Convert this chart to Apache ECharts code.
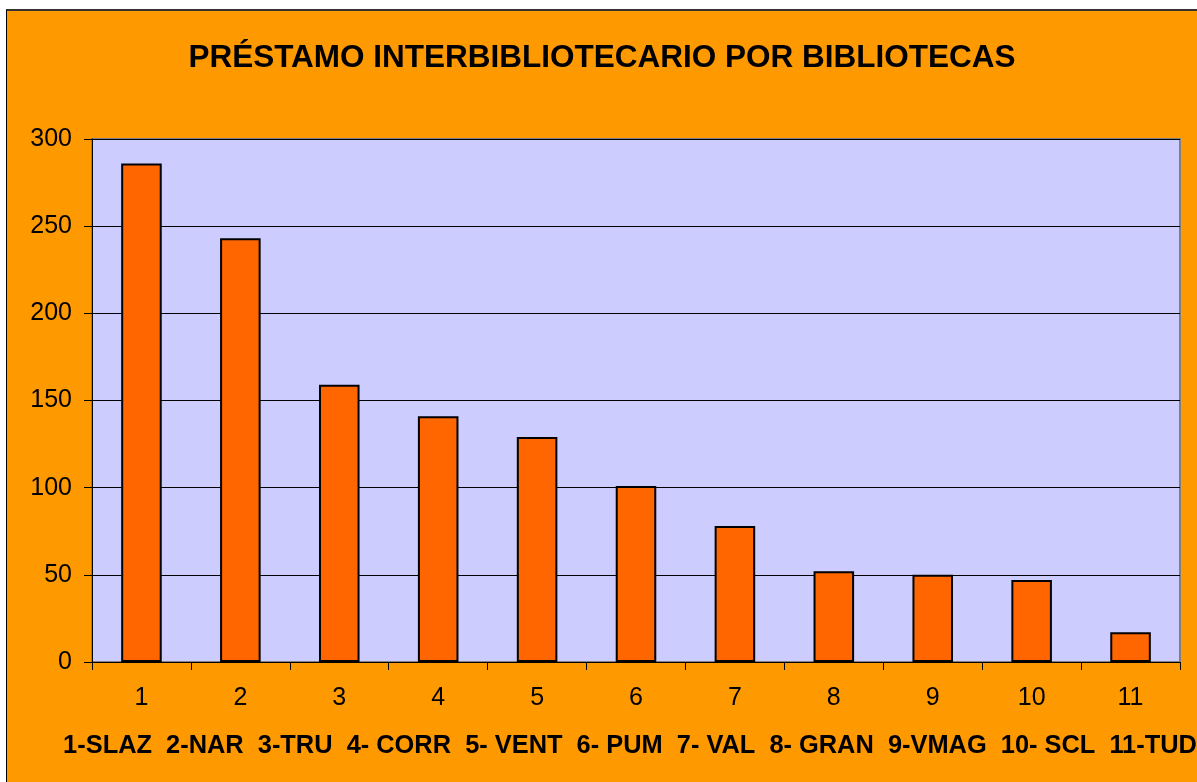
<!DOCTYPE html>
<html>
<head>
<meta charset="utf-8">
<script src="https://cdn.jsdelivr.net/npm/echarts@6/dist/echarts.min.js"></script>
<style>
  html, body { margin: 0; padding: 0; background: #ffffff; }
  #frame {
    position: absolute; left: 6px; top: 9px; width: 1191px; height: 773px;
    background: #ff9900; border-left: 1px solid #000; border-top: 2px solid #333;
    box-sizing: border-box;
  }
  #chart { width: 100%; height: 100%; }
</style>
</head>
<body>
<div id="frame"><div id="chart"></div></div>
<script>
const categories = ['1', '2', '3', '4', '5', '6', '7', '8', '9', '10', '11'];
const libraryNames = ['1-SLAZ', '2-NAR', '3-TRU', '4- CORR', '5- VENT', '6- PUM', '7- VAL', '8- GRAN', '9-VMAG', '10- SCL', '11-TUD'];
const loans = [286, 243, 159, 141, 129, 101, 78, 52, 50, 47, 17];
const yTicks = { min: 0, max: 300, interval: 50 };

const chart = echarts.init(document.getElementById('chart'));
const font = 'Liberation Sans, Arial, sans-serif';

chart.setOption({
  animation: false,
  backgroundColor: 'transparent',
  title: {
    text: 'PRÉSTAMO INTERBIBLIOTECARIO POR BIBLIOTECAS',
    left: 'center',
    top: 26,
    textStyle: { fontFamily: font, fontSize: 31.5, fontWeight: 'bold', color: '#000' }
  },
  grid: {
    left: 85,
    right: 17,
    top: 128,
    bottom: 120,
    outerBoundsMode: 'none',
    containLabel: false,
    show: true,
    backgroundColor: '#ccccff',
    borderColor: '#808080',
    borderWidth: 2
  },
  xAxis: {
    type: 'category',
    data: categories,
    name: libraryNames.join('\u00a0\u00a0'),
    nameLocation: 'middle',
    nameGap: 71,
    nameTextStyle: {
      fontFamily: font, fontSize: 25.4, fontWeight: 'bold', color: '#000',
      padding: [0, 12, 0, 0]
    },
    axisLine: { lineStyle: { color: '#000', width: 1 } },
    axisTick: { show: true, alignWithLabel: false, length: 8, lineStyle: { color: '#000' } },
    axisLabel: { interval: 0, margin: 24, fontFamily: font, fontSize: 25, color: '#000' }
  },
  yAxis: {
    type: 'value',
    min: yTicks.min,
    max: yTicks.max,
    interval: yTicks.interval,
    axisLine: { show: true, lineStyle: { color: '#000', width: 1 } },
    axisTick: { show: true, length: 8, lineStyle: { color: '#000' } },
    axisLabel: { margin: 20, fontFamily: font, fontSize: 25, color: '#000' },
    splitLine: { show: true, lineStyle: { color: '#000', width: 1 } }
  },
  series: [
    {
      type: 'bar',
      data: loans,
      barWidth: '41%',
      itemStyle: { color: '#ff6600', borderColor: '#000', borderWidth: 2 }
    }
  ]
});
</script>
</body>
</html>
